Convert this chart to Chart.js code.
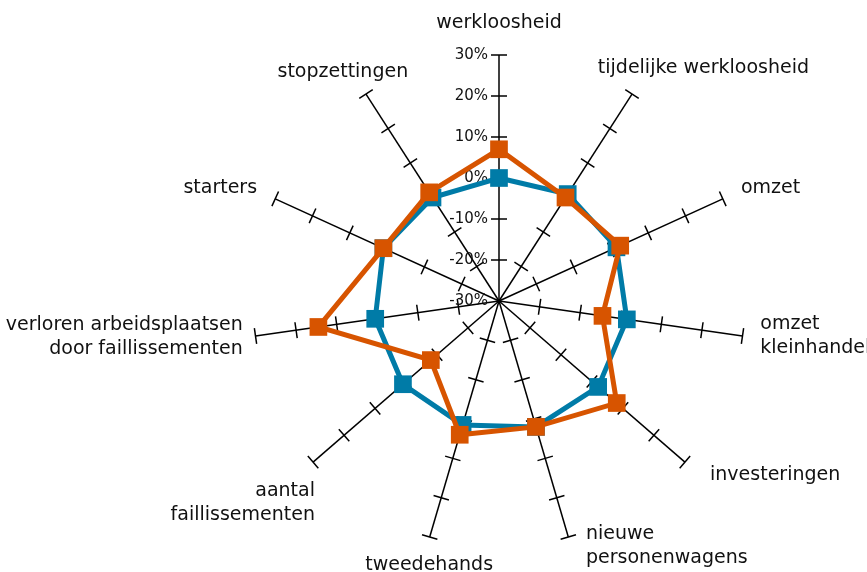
<!DOCTYPE html>
<html>
<head>
<meta charset="utf-8">
<script src="https://cdn.jsdelivr.net/npm/chart.js@4.4.1/dist/chart.umd.min.js"></script>
<style>
  body { margin: 0; background: #fff; }
  #wrap { width: 867px; height: 572px; position: relative; overflow: hidden; }
</style>
</head>
<body>
<div id="wrap"><canvas id="canvas"></canvas></div>
<script>
var categories = [
  ["werkloosheid"],
  ["tijdelijke werkloosheid"],
  ["omzet"],
  ["omzet", "kleinhandel"],
  ["investeringen"],
  ["nieuwe", "personenwagens"],
  ["tweedehands", "personenwagens"],
  ["aantal", "faillissementen"],
  ["verloren arbeidsplaatsen", "door faillissementen"],
  ["starters"],
  ["stopzettingen"]
];
var blueValues = [0, 1, 1.5, 1.5, 2, 2, 1.5, 1, 0.5, 1, 0];
var orangeValues = [7, 0, 2.5, -4.5, 8, 2, 4, -8, 14.5, 1, 1.5];
var tickValues = [-30, -20, -10, 0, 10, 20, 30];

// small hand nudges for the category labels (dx, dy in px)
var labelNudge = [[0, 0], [-45, -9], [0, -2], [-2, -3], [10, 0], [12, -10],
                  [69, 21], [17, 28], [7, -2], [0, -2], [53, -5]];

var textColor = "#111";

// spoke ticks, % labels on the first spoke and the category labels
var spokeTicks = {
  id: "spokeTicks",
  beforeDatasetsDraw: function(chart) {
    var scale = chart.scales.r;
    var ctx = chart.ctx;
    ctx.save();
    ctx.strokeStyle = "#000";
    ctx.lineWidth = 1.5;
    for (var i = 0; i < categories.length; i++) {
      var a = scale.getIndexAngle(i);
      var px = Math.cos(a), py = Math.sin(a);
      for (var j = 1; j < tickValues.length; j++) {
        var p = scale.getPointPosition(i, scale.getDistanceFromCenterForValue(tickValues[j]));
        ctx.beginPath();
        ctx.moveTo(p.x - px * 8, p.y - py * 8);
        ctx.lineTo(p.x + px * 8, p.y + py * 8);
        ctx.stroke();
      }
    }
    ctx.fillStyle = textColor;
    ctx.font = "15px 'DejaVu Sans'";
    ctx.textAlign = "right";
    ctx.textBaseline = "middle";
    for (var k = 0; k < tickValues.length; k++) {
      var d = scale.getDistanceFromCenterForValue(tickValues[k]);
      ctx.fillText(tickValues[k] + "%", scale.xCenter - 11, scale.yCenter - d);
    }
    ctx.restore();
  },
  afterDraw: function(chart) {
    var scale = chart.scales.r;
    var ctx = chart.ctx;
    var lineH = 24;
    ctx.save();
    ctx.fillStyle = textColor;
    ctx.font = "19px 'DejaVu Sans'";
    ctx.textBaseline = "middle";
    for (var i = 0; i < categories.length; i++) {
      var a = scale.getIndexAngle(i);
      var s = Math.sin(a), c = Math.cos(a);
      var p = scale.getPointPosition(i, scale.drawingArea + 20);
      var lines = categories[i];
      var h = lines.length * lineH;
      var top = p.y - h / 2;
      if (Math.abs(s) < 0.15) {
        ctx.textAlign = "center";
        if (c > 0) top = p.y - h;
      } else {
        ctx.textAlign = s > 0 ? "left" : "right";
      }
      var x = p.x + labelNudge[i][0];
      top += labelNudge[i][1];
      for (var l = 0; l < lines.length; l++) {
        ctx.fillText(lines[l], x, top + lineH * (l + 0.5));
      }
    }
    ctx.restore();
  }
};

function radarChart() {
  var ctx = document.getElementById("canvas").getContext("2d");
  new Chart(ctx, {
    type: "radar",
    data: {
      labels: categories,
      datasets: [
        {
          data: orangeValues,
          borderColor: "#D75400",
          backgroundColor: "#D75400",
          pointBackgroundColor: "#D75400",
          borderWidth: 5,
          pointStyle: "rect",
          pointRadius: 12.5,
          pointHoverRadius: 12.5,
          pointBorderWidth: 0,
          fill: false
        },
        {
          data: blueValues,
          borderColor: "#007BA7",
          backgroundColor: "#007BA7",
          pointBackgroundColor: "#007BA7",
          borderWidth: 5,
          pointStyle: "rect",
          pointRadius: 12.5,
          pointHoverRadius: 12.5,
          pointBorderWidth: 0,
          fill: false
        }
      ]
    },
    options: {
      responsive: true,
      maintainAspectRatio: false,
      animation: false,
      layout: { padding: { left: 253, right: 122, top: 55, bottom: 25 } },
      plugins: { legend: { display: false }, tooltip: { enabled: false } },
      scales: {
        r: {
          min: -30,
          max: 30,
          ticks: { display: false, stepSize: 10 },
          grid: { display: false },
          angleLines: { display: true, color: "#000", lineWidth: 1.5 },
          pointLabels: { display: false }
        }
      }
    },
    plugins: [spokeTicks]
  });
}
radarChart();
</script>
</body>
</html>
